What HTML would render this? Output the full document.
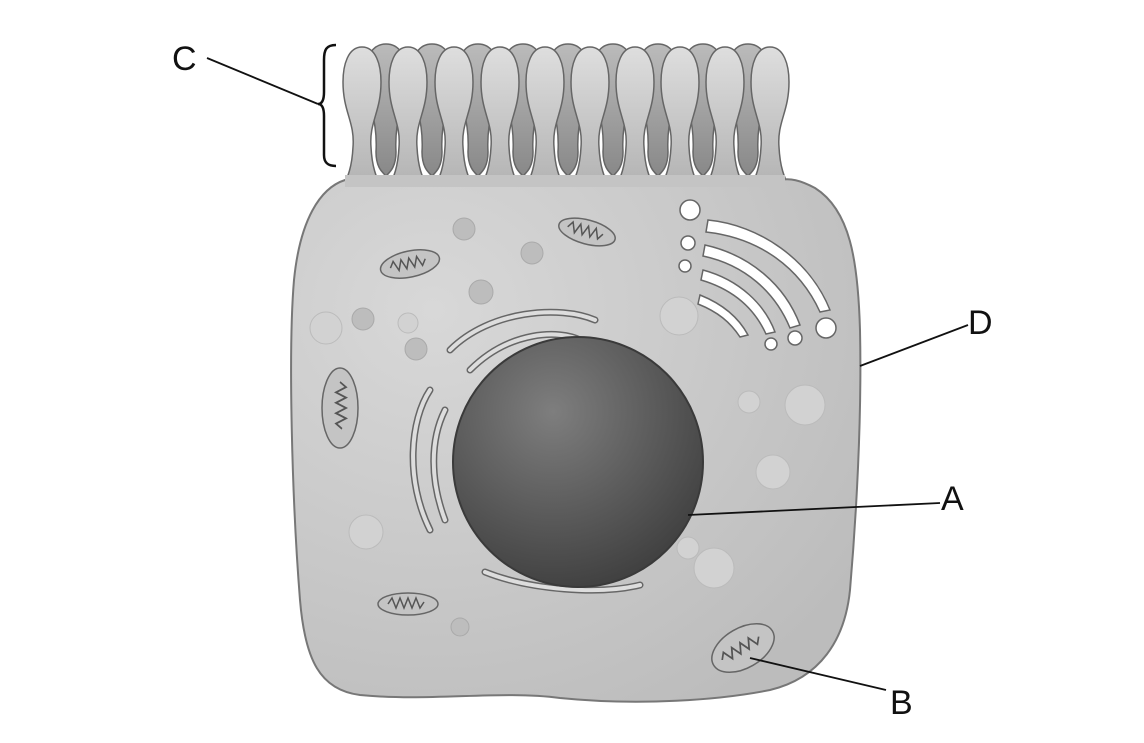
<!DOCTYPE html>
<html><head><style>body{margin:0;background:#fff}svg{display:block}text{font-family:"Liberation Sans",sans-serif;font-size:34px;fill:#111}</style></head><body>
<svg width="1144" height="743" viewBox="0 0 1144 743" xmlns="http://www.w3.org/2000/svg">
<defs>
<radialGradient id="cell" cx="0.25" cy="0.25" r="0.9"><stop offset="0" stop-color="#d8d8d8"/><stop offset="1" stop-color="#bcbcbc"/></radialGradient>
<radialGradient id="nuc" cx="0.4" cy="0.3" r="0.75"><stop offset="0" stop-color="#7e7e7e"/><stop offset="1" stop-color="#3e3e3e"/></radialGradient>
<linearGradient id="mv" x1="0" y1="0" x2="0" y2="1"><stop offset="0" stop-color="#dedede"/><stop offset="1" stop-color="#b2b2b2"/></linearGradient>
<linearGradient id="mvb" x1="0" y1="0" x2="0" y2="1"><stop offset="0" stop-color="#bbb"/><stop offset="1" stop-color="#888"/></linearGradient>
<g id="back"><path d="M0,-128 C14,-128 20,-115 20,-100 C20,-70 8,-55 10,-20 C10,-5 4,0 0,4 C-4,0 -10,-5 -10,-20 C-8,-55 -20,-70 -20,-100 C-20,-115 -14,-128 0,-128Z" fill="url(#mvb)" stroke="#666" stroke-width="1.5"/></g>
<g id="front"><path d="M0,-130 C14,-130 19,-112 19,-95 C19,-65 7,-55 9,-30 C10,-10 14,0 20,12 L-20,12 C-14,0 -10,-10 -9,-30 C-7,-55 -19,-65 -19,-95 C-19,-112 -14,-130 0,-130Z" fill="url(#mv)" stroke="#666" stroke-width="1.5"/></g>
<g id="mito"><path d="M-20,0 l4,-6 l4,10 l4,-10 l4,10 l4,-10 l4,10 l4,-10 l4,10 l4,-6" fill="none" stroke="#555" stroke-width="1.5"/></g>
</defs>
<g transform="translate(0,172)">
<use href="#back" x="386"/><use href="#back" x="432"/><use href="#back" x="478"/><use href="#back" x="523"/><use href="#back" x="568"/><use href="#back" x="613"/><use href="#back" x="658"/><use href="#back" x="703"/><use href="#back" x="748"/>
</g>
<g transform="translate(0,177)">
<use href="#front" x="362"/><use href="#front" x="408"/><use href="#front" x="454"/><use href="#front" x="500"/><use href="#front" x="545"/><use href="#front" x="590"/><use href="#front" x="635"/><use href="#front" x="680"/><use href="#front" x="725"/><use href="#front" x="770"/>
</g>
<path d="M345,180 C320,188 300,220 294,280 C288,350 292,500 300,600 C305,660 320,690 360,695 C430,702 500,690 560,698 C640,706 720,700 770,690 C820,678 845,640 850,590 C856,520 862,420 860,330 C858,260 850,210 815,188 C800,180 790,178 780,180 Z" fill="url(#cell)" stroke="#777" stroke-width="2"/>
<rect x="345" y="175" width="440" height="12" fill="#c4c4c4"/>
<g fill="#bdbdbd" stroke="#aaa">
<circle cx="464" cy="229" r="11"/><circle cx="532" cy="253" r="11"/><circle cx="481" cy="292" r="12"/><circle cx="363" cy="319" r="11"/><circle cx="416" cy="349" r="11"/><circle cx="460" cy="627" r="9"/>
</g>
<g fill="#d2d2d2" stroke="#bbb">
<circle cx="326" cy="328" r="16"/><circle cx="408" cy="323" r="10"/><circle cx="679" cy="316" r="19"/><circle cx="805" cy="405" r="20"/><circle cx="749" cy="402" r="11"/><circle cx="773" cy="472" r="17"/><circle cx="366" cy="532" r="17"/><circle cx="714" cy="568" r="20"/><circle cx="688" cy="548" r="11"/>
</g>
<g fill="#c4c4c4" stroke="#666" stroke-width="1.5">
<ellipse cx="410" cy="264" rx="30" ry="13" transform="rotate(-12 410 264)"/>
<ellipse cx="587" cy="232" rx="29" ry="12" transform="rotate(15 587 232)"/>
<ellipse cx="340" cy="408" rx="18" ry="40"/>
<ellipse cx="408" cy="604" rx="30" ry="11"/>
<ellipse cx="743" cy="648" rx="34" ry="20" transform="rotate(-30 743 648)"/>
</g>
<use href="#mito" transform="translate(410,264) rotate(-12)"/>
<use href="#mito" transform="translate(587,232) rotate(15)"/>
<use href="#mito" transform="translate(340,408) rotate(90) scale(1.3,1)"/>
<use href="#mito" transform="translate(408,604)"/>
<use href="#mito" transform="translate(743,648) rotate(-30) scale(1.2,1)"/>
<g fill="none" stroke="#666" stroke-width="7" stroke-linecap="round">
<path d="M450,350 C490,310 560,305 595,320"/>
<path d="M470,370 C510,330 560,330 580,340"/>
<path d="M430,390 C410,420 405,480 430,530"/>
<path d="M445,410 C430,440 430,480 445,520"/>
<path d="M485,572 C530,590 600,595 640,585"/>
</g>
<g fill="none" stroke="#ddd" stroke-width="4" stroke-linecap="round">
<path d="M450,350 C490,310 560,305 595,320"/>
<path d="M470,370 C510,330 560,330 580,340"/>
<path d="M430,390 C410,420 405,480 430,530"/>
<path d="M445,410 C430,440 430,480 445,520"/>
<path d="M485,572 C530,590 600,595 640,585"/>
</g>
<circle cx="578" cy="462" r="125" fill="url(#nuc)" stroke="#3a3a3a" stroke-width="2"/>
<g fill="#fff" stroke="#666" stroke-width="1.5">
<path d="M708,220 C760,225 810,260 830,310 L820,312 C800,268 760,238 706,232 Z"/>
<path d="M705,245 C750,255 785,285 800,325 L790,328 C775,292 745,265 703,256 Z"/>
<path d="M703,270 C740,280 765,305 775,332 L766,334 C755,310 735,290 701,280 Z"/>
<path d="M700,295 C725,305 740,320 748,335 L740,337 C730,322 718,312 698,304 Z"/>
<circle cx="690" cy="210" r="10"/><circle cx="688" cy="243" r="7"/><circle cx="685" cy="266" r="6"/>
<circle cx="826" cy="328" r="10"/><circle cx="795" cy="338" r="7"/><circle cx="771" cy="344" r="6"/>
</g>
<path d="M336,45 C326,45 324,50 324,60 L324,92 C324,100 322,104 318,104 C322,104 324,108 324,116 L324,155 C324,163 328,166 336,166" fill="none" stroke="#111" stroke-width="2.5"/>
<g stroke="#111" stroke-width="1.8">
<line x1="207" y1="58" x2="318" y2="104"/>
<line x1="968" y1="325" x2="860" y2="366"/>
<line x1="940" y1="503" x2="688" y2="515"/>
<line x1="886" y1="690" x2="750" y2="658"/>
</g>
<text x="172" y="70">C</text>
<text x="968" y="334">D</text>
<text x="941" y="510">A</text>
<text x="890" y="714">B</text>
</svg>
</body></html>
